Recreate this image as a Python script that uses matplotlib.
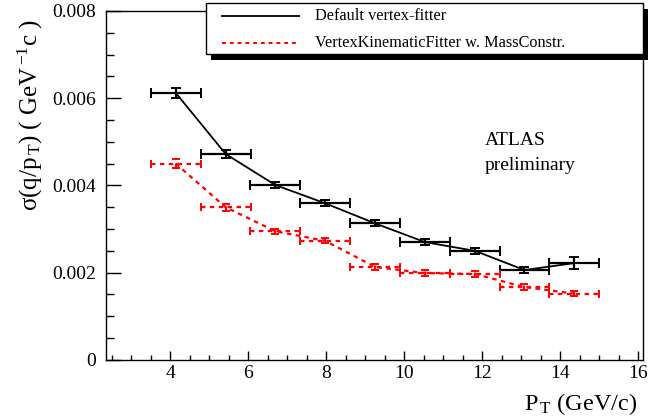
import matplotlib
matplotlib.use("Agg")
import matplotlib.pyplot as plt
from matplotlib.lines import Line2D
from matplotlib.patches import Rectangle
from matplotlib.ticker import MultipleLocator

plt.rcParams['font.family'] = ['Liberation Serif', 'DejaVu Serif']
plt.rcParams['mathtext.fontset'] = 'custom'
plt.rcParams['mathtext.rm'] = 'Liberation Serif'
plt.rcParams['mathtext.it'] = 'Liberation Serif:italic'

# pT bins (centre, half width)
pt = [4.14, 5.42, 6.69, 7.97, 9.25, 10.53, 11.81, 13.08, 14.36]
pt_err = [0.64] * 9

# sigma(q/pT) for the two fitters
default_sigma = [0.00612, 0.00472, 0.00401, 0.00359, 0.00313, 0.00270, 0.00250, 0.00206, 0.00222]
default_err = [0.00012, 0.00009, 0.00007, 0.00007, 0.00007, 0.00007, 0.00007, 0.00007, 0.00013]
kin_sigma = [0.00450, 0.00350, 0.00295, 0.00273, 0.00213, 0.00199, 0.00197, 0.00167, 0.00152]
kin_err = [0.00011, 0.00008, 0.00006, 0.00006, 0.00006, 0.00006, 0.00006, 0.00006, 0.00006]

labels = ["Default vertex-fitter", "VertexKinematicFitter w. MassConstr."]

fig = plt.figure(figsize=(6.62, 4.19), dpi=100)
ax = fig.add_axes([0.160, 0.141, 0.812, 0.833])

ax.plot(pt, default_sigma, color='black', lw=1.3)
ax.errorbar(pt, default_sigma, xerr=pt_err, yerr=default_err, fmt='none',
            ecolor='black', elinewidth=1.6, capsize=3.5, capthick=1.4)

ax.plot(pt, kin_sigma, color='red', lw=1.6, ls=(0, (2.0, 2.0)))
eb = ax.errorbar(pt, kin_sigma, xerr=pt_err, yerr=kin_err, fmt='none',
                 ecolor='red', elinewidth=1.6, capsize=3.0, capthick=1.4)
for lc in eb[2]:
    lc.set_linestyle((0, (2.0, 2.0)))

ax.set_xlim(2.35, 16.13)
ax.set_ylim(0, 0.008)
ax.xaxis.set_minor_locator(MultipleLocator(0.5))
ax.yaxis.set_minor_locator(MultipleLocator(0.0005))
ax.set_xticks([4, 6, 8, 10, 12, 14, 16])
ax.set_yticks([0, 0.002, 0.004, 0.006, 0.008])
ax.set_yticklabels(["0", "0.002", "0.004", "0.006", "0.008"])

ax.tick_params(which='both', direction='in', top=False, right=False,
               labelsize=14, width=1)
ax.tick_params(axis='x', which='major', length=6.5, pad=4)
ax.tick_params(axis='x', which='minor', length=3.3)
ax.tick_params(axis='y', which='major', length=11, pad=7)
ax.tick_params(axis='y', which='minor', length=5.8)
for s in ax.spines.values():
    s.set_linewidth(1)

fig.text(0.046, 1 - 19 / 419,
         "σ(q/p$_{\\,\\mathrm{T}}$) ( GeV$^{\\,\\mathrm{-1}}$c )",
         rotation=90, ha='center', va='top', fontsize=18)
fig.text(637 / 662, 0.0215, "P$_{\\,\\mathrm{T}}$ (GeV/c)", ha='right', va='baseline',
         fontsize=17.5)

ax.text(485 / 662, 1 - 145 / 419, "ATLAS", transform=fig.transFigure,
        fontsize=14, va='baseline')
ax.text(485 / 662, 1 - 170 / 419, "preliminary", transform=fig.transFigure,
        fontsize=14, va='baseline')

# legend box with ROOT-style solid shadow
W, H = 662.0, 419.0
bx0, by0, bx1, by1 = 206, 3, 643, 54
fig.patches.append(Rectangle(((bx0 + 5) / W, 1 - (by1 + 6) / H), (bx1 - bx0) / W,
                             (by1 - by0) / H, transform=fig.transFigure,
                             facecolor='black', edgecolor='black', lw=0, zorder=10))
fig.patches.append(Rectangle((bx0 / W, 1 - by1 / H), (bx1 - bx0) / W, (by1 - by0) / H,
                             transform=fig.transFigure, facecolor='white',
                             edgecolor='black', lw=1, zorder=11))
styles = [dict(color='black', lw=1.3, ls='-'),
          dict(color='red', lw=1.4, ls=(0, (2.0, 2.0)))]
for i, (lab, st) in enumerate(zip(labels, styles)):
    yy = 1 - (16 + 27 * i) / H
    fig.lines.append(Line2D([222 / W, 299 / W], [yy, yy], transform=fig.transFigure,
                            zorder=12, **st))
    fig.text(315 / W, yy, lab, ha='left', va='center', fontsize=11.7, zorder=12)

fig.savefig("out.png", dpi=100)
